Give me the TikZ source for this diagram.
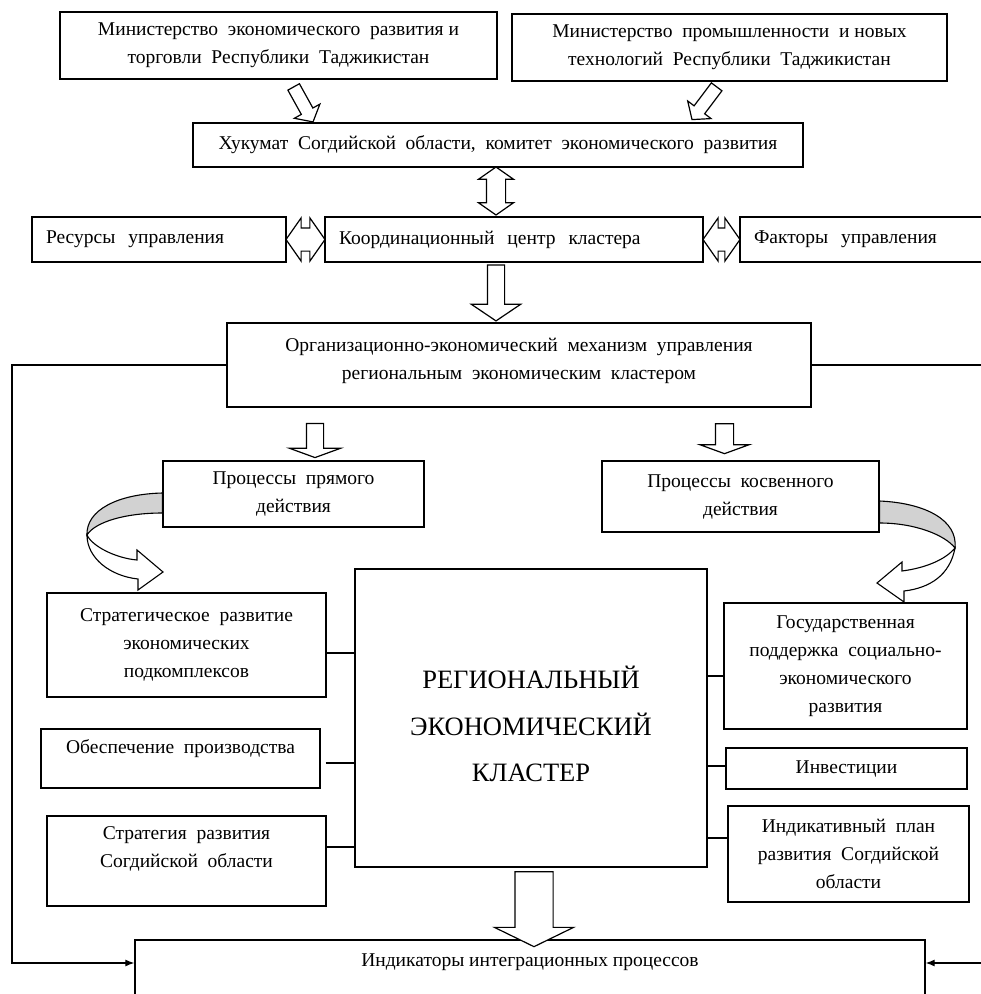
\documentclass[tikz,border=0pt]{standalone}
\usepackage{fontspec}
\setmainfont{Liberation Serif}
\usetikzlibrary{arrows.meta,calc,shapes.arrows}

\begin{document}
\begin{tikzpicture}[>={Latex[length=9pt,width=7pt]}, x=1pt, y=-1pt, line width=1.2pt]
  \tikzstyle{box}=[draw, line width=1.3pt, inner sep=0pt, align=center, font=\fontsize{19.5}{28}\selectfont]
  \tikzstyle{lbox}=[box, align=left, inner xsep=14pt]
  \tikzstyle{hollow}=[draw, fill=white, line width=1.2pt, inner xsep=0pt]
  \tikzstyle{sarrow}=[hollow, single arrow, single arrow head indent=0pt]
  \tikzstyle{darrow}=[hollow, double arrow]
  \path[fill=white, use as bounding box] (0,0) rectangle (981,994);

  % ministries and hukumat
  \node[box, minimum width=437pt, minimum height=67pt] (minEcon) at (278.5,45.5) {Министерство~ экономического~ развития и\\торговли~ Республики~ Таджикистан};
  \node[box, minimum width=435pt, minimum height=67pt] (minInd) at (729.5,47.5) {Министерство~ промышленности~ и новых\\технологий~ Республики~ Таджикистан};
  \node[box, minimum width=610pt, minimum height=44pt] (hukumat) at (498,145) {Хукумат~ Согдийской~ области,~ комитет~ экономического~ развития};

  % coordination row
  \node[lbox, text width=226pt, minimum height=45pt] (resources) at (159,239.5) {Ресурсы~ управления};
  \node[lbox, text width=350pt, minimum height=45pt] (coord) at (514,239.5) {Координационный~ центр~ кластера};
  \node[lbox, text width=222pt, minimum height=45pt] (factors) at (865,239.5) {Факторы~ управления};

  \node[box, minimum width=584pt, minimum height=84pt] (mech) at (519,365) {Организационно-экономический~ механизм~ управления\\региональным~ экономическим~ кластером\\[-16pt]~};

  \node[box, minimum width=261pt, minimum height=66pt] (direct) at (293.5,494) {Процессы~ прямого\\действия};
  \node[box, minimum width=277pt, minimum height=71pt] (indirect) at (740.5,496.5) {Процессы~ косвенного\\действия};

  % cluster and its parts
  \node[box, minimum width=352pt, minimum height=298pt, font=\fontsize{26.5}{46.5}\selectfont] (cluster) at (531,718) {~\\[-12pt]РЕГИОНАЛЬНЫЙ\\ЭКОНОМИЧЕСКИЙ\\КЛАСТЕР};
  \node[box, minimum width=279pt, minimum height=104pt] (strategic) at (186.5,645) {Стратегическое~ развитие\\экономических\\подкомплексов};
  \node[box, minimum width=279pt, minimum height=59pt] (supply) at (180.5,758.5) {Обеспечение~ производства\\[-4pt]~};
  \node[box, minimum width=279pt, minimum height=90pt] (strategy) at (186.5,861) {Стратегия~ развития\\Согдийской~ области\\~};
  \node[box, minimum width=243pt, minimum height=126pt] (support) at (845.5,666) {Государственная\\поддержка~ социально-\\экономического\\развития};
  \node[box, minimum width=241pt, minimum height=41pt] (invest) at (846.5,768.5) {Инвестиции};
  \node[box, minimum width=241pt, minimum height=96pt] (plan) at (848.5,854) {Индикативный~ план\\развития~ Согдийской\\области};

  \node[box, minimum width=790pt, minimum height=90pt] (indicators) at (530,985) {Индикаторы интеграционных процессов\\~\\[-6pt]~};

  % block arrows
  \node[sarrow, rotate=-61, minimum height=40pt, inner ysep=6pt, single arrow head extend=8pt, single arrow tip angle=100] (a1) at (302,102) {};
  \node[sarrow, rotate=-127, minimum height=41pt, inner ysep=6pt, single arrow head extend=8pt, single arrow tip angle=100] (a2) at (706,101) {};
  \node[darrow, rotate=90, minimum height=48pt, inner ysep=9pt, double arrow head extend=8pt, double arrow tip angle=110] (a3) at (496,191) {};
  \node[darrow, minimum height=39pt, inner ysep=11pt, double arrow head extend=10pt, double arrow tip angle=110] (a4) at (305.5,239.5) {};
  \node[darrow, minimum height=37pt, inner ysep=11pt, double arrow head extend=10pt, double arrow tip angle=110] (a5) at (721.5,239.5) {};
  \node[sarrow, rotate=-90, minimum height=56pt, inner ysep=8pt, single arrow head extend=16pt, single arrow tip angle=112] (a6) at (496,290) {};
  \node[sarrow, rotate=-90, minimum height=34pt, inner ysep=8pt, single arrow head extend=17pt, single arrow tip angle=140] (a7) at (315,439) {};
  \node[sarrow, rotate=-90, minimum height=30pt, inner ysep=8.5pt, single arrow head extend=15.5pt, single arrow tip angle=140] (a8) at (724.5,437) {};
  \node[sarrow, rotate=-90, minimum height=75pt, inner ysep=18.5pt, single arrow head extend=20.5pt, single arrow tip angle=128] (a9) at (534,904.5) {};

  % curved arrows
  \filldraw[fill=gray!35, line width=1.1pt] (direct.west |- 0,493) .. controls (118,494) and (86,510) .. (87,535) .. controls (95,522) and (125,513) .. (direct.west |- 0,513) -- cycle;
  \filldraw[fill=white, line width=1.1pt] (87,535) .. controls (87,558) and (110,576) .. (138,579) -- (138,590) -- (163,572) -- (137,550) -- (137,560) .. controls (115,558) and (92,546) .. (87,535) -- cycle;
  \filldraw[fill=gray!35, line width=1.1pt] (indirect.east |- 0,501) .. controls (925,503) and (958,520) .. (955,548) .. controls (945,535) and (915,523) .. (indirect.east |- 0,523) -- cycle;
  \filldraw[fill=white, line width=1.1pt] (955,548) .. controls (950,575) and (930,588) .. (904,591) -- (904,602) -- (877,583) -- (902,562) -- (902,571) .. controls (925,568) and (945,560) .. (955,548) -- cycle;

  % links to the cluster
  \draw ([yshift=-8pt]strategic.east) -- ([yshift=-8pt]strategic.east -| cluster.west);
  \draw ([xshift=5pt,yshift=-4.5pt]supply.east) -- ([yshift=-4.5pt]supply.east -| cluster.west);
  \draw ([yshift=14pt]strategy.east) -- ([yshift=14pt]strategy.east -| cluster.west);
  \draw ([yshift=-10pt]support.west) -- ([yshift=-10pt]support.west -| cluster.east);
  \draw ([yshift=2.5pt]invest.west) -- ([yshift=2.5pt]invest.west -| cluster.east);
  \draw ([yshift=16pt]plan.west) -- ([yshift=16pt]plan.west -| cluster.east);

  % feedback to indicators
  \coordinate (leftbus) at (12,963);
  \coordinate (rightbus) at (987,963);
  \draw[->] (mech.west) -| (leftbus) -- (leftbus -| indicators.west);
  \draw[->] (mech.east) -| (rightbus) -- (rightbus -| indicators.east);
\end{tikzpicture}
\end{document}
